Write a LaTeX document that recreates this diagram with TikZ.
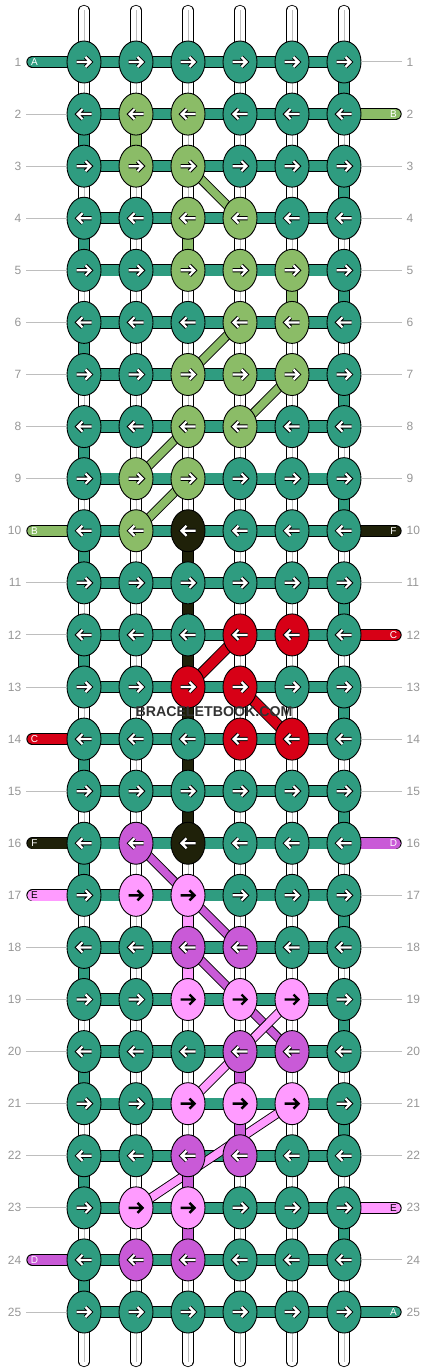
\documentclass[tikz,border=0pt]{standalone}
\usepackage{fontspec}
\setmainfont{Liberation Sans}
\usetikzlibrary{shapes.geometric}
\definecolor{cT}{RGB}{47,156,128}
\definecolor{cG}{RGB}{139,188,103}
\definecolor{cK}{RGB}{31,33,9}
\definecolor{cR}{RGB}{215,0,22}
\definecolor{cP}{RGB}{201,90,215}
\definecolor{cQ}{RGB}{255,155,255}
\definecolor{gnum}{RGB}{150,150,150}
\definecolor{gline}{RGB}{190,190,190}
\definecolor{wm}{RGB}{50,50,50}
\pgfdeclarelayer{lw}\pgfdeclarelayer{lh}\pgfdeclarelayer{lc}\pgfdeclarelayer{ld}
\pgfsetlayers{lw,lh,lc,ld,main}
\tikzset{
  knot/.style={ellipse, draw=black, line width=0.9, minimum width=34, minimum height=42, inner sep=0},
  vw/.style={draw=black, line width=0.9, double=white, double distance=9.5},
  vg/.style={draw=gline, line width=1},
  vc/.style={draw=black, line width=0.9, double=#1, double distance=9.5},
  hbar/.style={draw=black, line width=0.9, double=cT, double distance=10.5},
  lbar/.style={draw=black, line width=0.9, double=#1, double distance=10.5, line cap=round},
  diag/.style={draw=black, line width=0.9, double=#1, double distance=7.5},
  diagR/.style={draw=black, line width=0.9, double=#1, double distance=9.5},
  guide/.style={draw=gline, line width=1},
  num/.style={text=gnum, font=\fontsize{12}{12}\selectfont, inner sep=0},
  lett/.style={font=\fontsize{10}{10}\selectfont, inner sep=0},
  aout T/.style={draw=black, line width=4.2}, ain T/.style={draw=white, line width=2.2},
  aout G/.style={draw=black, line width=4.2}, ain G/.style={draw=white, line width=2.2},
  aout K/.style={draw=black, line width=4.2}, ain K/.style={draw=white, line width=2.2},
  aout R/.style={draw=black, line width=4.2}, ain R/.style={draw=white, line width=2.2},
  aout P/.style={draw=black, line width=4.2}, ain P/.style={draw=white, line width=2.2},
  aout Q/.style={draw=none}, ain Q/.style={draw=black, line width=2.4},
}
\begin{document}
\begin{tikzpicture}[x=1pt,y=-1pt]
\useasboundingbox (0,0) rectangle (428,1372);
% knots
\foreach \r/\row in {
 1/{T,T,T,T,T,T}, 2/{T,G,G,T,T,T}, 3/{T,G,G,T,T,T}, 4/{T,T,G,G,T,T},
 5/{T,T,G,G,G,T}, 6/{T,T,T,G,G,T}, 7/{T,T,G,G,G,T}, 8/{T,T,G,G,T,T},
 9/{T,G,G,T,T,T}, 10/{T,G,K,T,T,T}, 11/{T,T,T,T,T,T}, 12/{T,T,T,R,R,T},
 13/{T,T,R,R,T,T}, 14/{T,T,T,R,R,T}, 15/{T,T,T,T,T,T}, 16/{T,P,K,T,T,T},
 17/{T,Q,Q,T,T,T}, 18/{T,T,P,P,T,T}, 19/{T,T,Q,Q,Q,T}, 20/{T,T,T,P,P,T},
 21/{T,T,Q,Q,Q,T}, 22/{T,T,P,P,T,T}, 23/{T,Q,Q,T,T,T}, 24/{T,P,P,T,T,T},
 25/{T,T,T,T,T,T}} {
  \pgfmathtruncatemacro\dir{isodd(\r)?1:-1}
  \foreach \cc [count=\c] in \row {
    \node[knot, fill=c\cc] (n-\r-\c) at ({84+52*(\c-1)},{62+52.0833*(\r-1)}) {};
    \begin{scope}[shift={(n-\r-\c.center)}, xscale=\dir]
      \draw[aout \cc] (-7.5,0) -- (6,0) (1.5,-5) -- (6.5,0) -- (1.5,5);
      \draw[ain \cc] (-7.5,0) -- (6,0) (1.5,-5) -- (6.5,0) -- (1.5,5);
    \end{scope}
  }
}
% top and bottom strands
\foreach \c in {1,...,6} {
  \coordinate (top-\c) at ({84+52*(\c-1)},10.5);
  \coordinate (bot-\c) at ({84+52*(\c-1)},1361.5);
  \begin{pgfonlayer}{lw}
    \draw[vw, line cap=round] (top-\c) -- (n-1-\c.center);
    \draw[vg] (top-\c) -- (n-1-\c.center);
    \draw[vw, line cap=round] (bot-\c) -- (n-25-\c.center);
    \draw[vg] (bot-\c) -- (n-25-\c.center);
  \end{pgfonlayer}
}
% white verticals and horizontal bars
\foreach \r in {1,...,25} {
  \pgfmathtruncatemacro\rn{\r+1}
  \foreach \c in {1,...,6} {
    \pgfmathtruncatemacro\cn{\c+1}
    \begin{pgfonlayer}{lw}
      \ifnum\r<25
        \draw[vw] (n-\r-\c.center) -- (n-\rn-\c.center);
        \draw[vg] (n-\r-\c.center) -- (n-\rn-\c.center);
      \fi
    \end{pgfonlayer}
    \begin{pgfonlayer}{lh}
      \ifnum\c<6
        \draw[hbar] (n-\r-\c.center) -- (n-\r-\cn.center);
      \fi
    \end{pgfonlayer}
  }
}
% teal turns at the edges
\foreach \r in {1,...,24} {
  \pgfmathtruncatemacro\rn{\r+1}
  \pgfmathtruncatemacro\ce{isodd(\r)?6:1}
  \begin{pgfonlayer}{lc}
    \draw[vc=cT] (n-\r-\ce.center) -- (n-\rn-\ce.center);
  \end{pgfonlayer}
}
% diagonals
\foreach \a/\b/\e/\f/\k in {3/3/4/4/G, 6/4/7/3/G, 7/5/8/4/G, 8/3/9/2/G, 9/3/10/2/G,
  16/2/17/3/P, 17/3/18/4/P, 18/3/19/4/P, 19/4/20/5/P,
  19/5/20/4/Q, 20/4/21/3/Q, 21/5/23/2/Q} {
  \begin{pgfonlayer}{lc}
    \draw[diag=c\k] (n-\a-\b.center) -- (n-\e-\f.center);
  \end{pgfonlayer}
}
\foreach \a/\b/\e/\f in {12/4/13/3, 13/4/14/5} {
  \begin{pgfonlayer}{lc}
    \draw[diagR=cR] (n-\a-\b.center) -- (n-\e-\f.center);
  \end{pgfonlayer}
}
% coloured verticals
\foreach \r/\c/\k in {2/2/G, 4/3/G, 5/5/G,
  10/3/K, 11/3/K, 12/3/K, 13/3/K, 14/3/K, 15/3/K,
  17/3/Q, 18/3/Q, 20/4/P, 21/4/P, 22/3/P, 23/3/P} {
  \pgfmathtruncatemacro\rn{\r+1}
  \begin{pgfonlayer}{ld}
    \draw[vc=c\k] (n-\r-\c.center) -- (n-\rn-\c.center);
  \end{pgfonlayer}
}
% thread ends with letters
\foreach \r/\k/\t/\tc in {1/T/A/white, 10/G/B/white, 14/R/C/white, 16/K/F/white, 17/Q/E/black, 24/P/D/white} {
  \coordinate (le-\r) at (32.5,{62+52.0833*(\r-1)});
  \begin{pgfonlayer}{lh}
    \draw[lbar=c\k] (le-\r) -- (n-\r-1.center);
  \end{pgfonlayer}
  \node[lett, text=\tc] (lt-\r) at (34.5,{62+52.0833*(\r-1)}) {\t};
}
\foreach \r/\k/\t/\tc in {2/G/B/white, 10/K/F/white, 12/R/C/white, 16/P/D/white, 23/Q/E/black, 25/T/A/white} {
  \coordinate (re-\r) at (395.5,{62+52.0833*(\r-1)});
  \begin{pgfonlayer}{lh}
    \draw[lbar=c\k] (re-\r) -- (n-\r-6.center);
  \end{pgfonlayer}
  \node[lett, text=\tc] (rt-\r) at (393.5,{62+52.0833*(\r-1)}) {\t};
}
% guide lines
\foreach \r in {2,3,4,5,6,7,8,9,11,12,13,15,18,19,20,21,22,23,25} {
  \coordinate (lg-\r) at (26,{62+52.0833*(\r-1)});
  \draw[guide] (lg-\r) -- (n-\r-1);
}
\foreach \r in {1,3,4,5,6,7,8,9,11,13,14,15,17,18,19,20,21,22,24} {
  \coordinate (rg-\r) at (402,{62+52.0833*(\r-1)});
  \draw[guide] (rg-\r) -- (n-\r-6);
}
% row numbers
\foreach \r in {1,...,25} {
  \node[num, anchor=east] (ln-\r) at (21.5,{62+52.0833*(\r-1)}) {\r};
  \node[num, anchor=west] (rn-\r) at (406.5,{62+52.0833*(\r-1)}) {\r};
}
% watermark
\node[font=\bfseries\fontsize{14.2}{15}\selectfont, text=wm, inner sep=0] (wmark) at (214,712) {BRACELETBOOK.COM};
\end{tikzpicture}
\end{document}
